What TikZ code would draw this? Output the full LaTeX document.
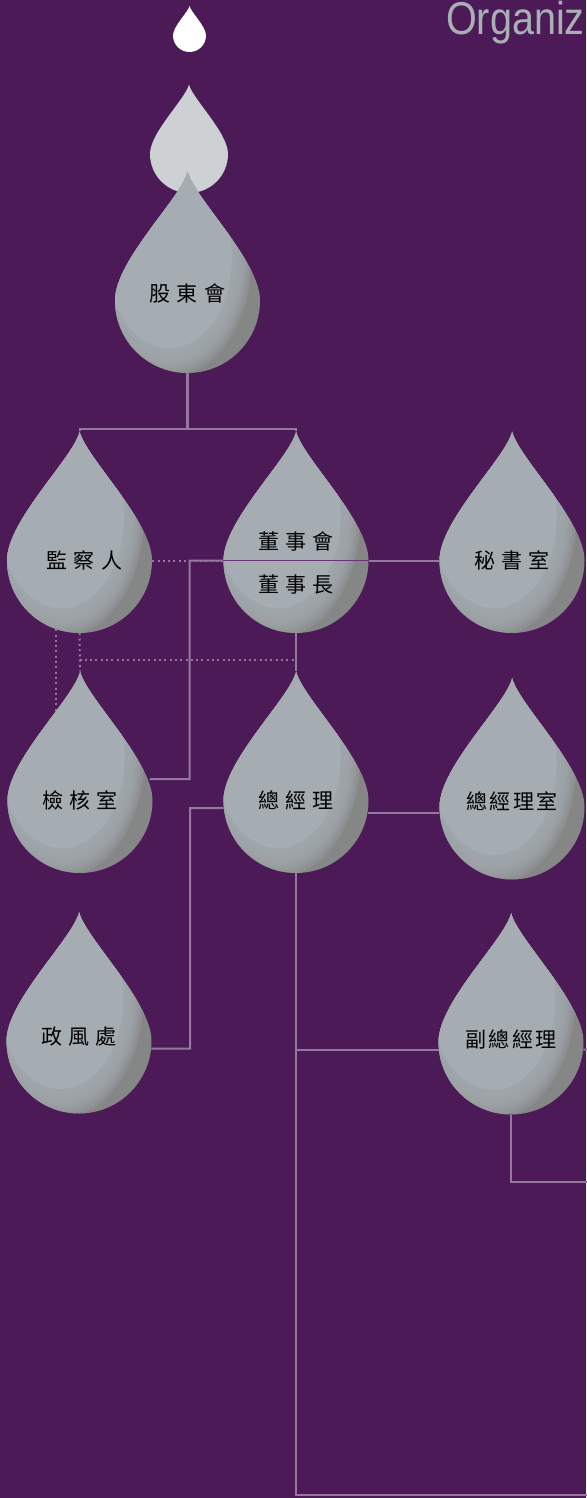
\documentclass[tikz,border=0pt]{standalone}
\usepackage{fontspec}
\newfontfamily\cjkwide[LetterSpace=30]{Noto Sans CJK TC}
\newfontfamily\cjknarrow[LetterSpace=12]{Noto Sans CJK TC}
\newfontfamily\titlefont[FakeStretch=0.86]{Liberation Sans}
\usetikzlibrary{positioning}

\definecolor{plum}{HTML}{4C1B57}
\definecolor{linkgrey}{HTML}{9478A0}
\definecolor{dropgrey}{HTML}{A5ACB2}
\definecolor{dropshadow}{HTML}{858686}
\definecolor{paledrop}{HTML}{CDD1D4}
\definecolor{titlegrey}{HTML}{A8AFB5}
\definecolor{rulepurple}{HTML}{6A3277}

\pgfdeclarelayer{canvas}
\pgfdeclarelayer{wires}
\pgfsetlayers{canvas,wires,main}

\tikzset{
  drop path/.style={insert path={(0,1.78) .. controls (0.1,1.4) and (1,0.55) .. (1,0) arc[start angle=0, end angle=-180, radius=1] .. controls (-1,0.55) and (-0.1,1.4) .. cycle}},
  dropcore/.style={circle, inner sep=0pt},
  droplabel/.style={font=\cjkwide\fontsize{21}{25}\selectfont, text=black, inner sep=0pt},
  narrowlabel/.style={font=\cjknarrow\fontsize{21}{25}\selectfont},
  link/.style={draw=linkgrey, line width=2pt},
  trunk/.style={link, line width=3pt},
  dotlink/.style={link, line width=2pt, dash pattern=on 2pt off 3.3pt},
  rule/.style={draw=rulepurple, line width=1.6pt},
  title/.style={font=\titlefont\fontsize{46}{50}\selectfont, text=titlegrey, inner sep=0pt},
}

% shaded drop with a named round part
\newcommand{\waterdrop}[6][]{%
  \begin{scope}[shift={(#3,#4)}, scale=#5]
    \begin{scope}
      \clip[drop path];
      \fill[dropshadow] (-1.2,-1.2) rectangle (1.2,2);
      \foreach \s in {0.95,0.925,0.9,0.875,0.85,0.825,0.8,0.775,0.75}
        \fill[dropgrey, opacity=0.22] (-0.25,0.6) ellipse [x radius=1.2*\s, y radius=1.75*\s];
      \fill[dropgrey] (-0.25,0.6) ellipse [x radius=1.2*0.72, y radius=1.75*0.72];
    \end{scope}
    \coordinate (#2-tip) at (0,1.78);
  \end{scope}
  \node[dropcore, minimum size=2*#5pt] (#2) at (#3,#4) {};
  \node[droplabel, #1] (#2-text) at (#3,#4) {#6};
}

\begin{document}
\begin{tikzpicture}[x=1pt, y=1pt]
  \useasboundingbox (0,0) rectangle (586,-1498);
  \begin{pgfonlayer}{canvas}
    \fill[plum] (0,0) rectangle (586,-1498);
  \end{pgfonlayer}

  \node[title, anchor=base west] (heading) at (446,-34.5) {Organiz};

  % falling drops
  \begin{scope}[shift={(189.5,-35.5)}, scale=16.5]
    \fill[white, drop path];
  \end{scope}
  \begin{scope}[shift={(189,-154)}, scale=39]
    \fill[paledrop, drop path];
  \end{scope}

  \waterdrop[yshift=7.5]{gudong}{187.5}{-300.5}{72.5}{股東會}
  \waterdrop[xshift=5]{jiancha}{79.5}{-560.5}{72.5}{監察人}
  \waterdrop[align=center, yshift=-3, execute at begin node=\setlength{\baselineskip}{43pt}]{dongshi}{296}{-560.5}{72.5}{董事會\\董事長}
  \waterdrop{mishu}{512}{-560.5}{72.5}{秘書室}
  \waterdrop{jianhe}{80}{-800.5}{72.5}{檢核室}
  \waterdrop{zongjingli}{296}{-800.5}{72.5}{總經理}
  \waterdrop[narrowlabel, yshift=6]{zjlshi}{512}{-807}{72.5}{總經理室}
  \waterdrop[yshift=4]{zhengfeng}{79}{-1041}{72.5}{政風處}
  \waterdrop[narrowlabel, yshift=3]{fuzong}{511}{-1042}{72.5}{副總經理}

  \draw[rule] (dongshi.west) -- (dongshi.east);

  \coordinate (fork) at (187.5,-429);
  \coordinate (dotrail) at (79.5,-660);
  \coordinate (auditbend) at (189.5,-779);
  \coordinate (ethicsbend) at (190,-1048.6);
  \coordinate (baseexit) at (590,-1495);
  \coordinate (sideexit) at (590,-1049.6);
  \coordinate (lowexit) at (590,-1181.5);

  \begin{pgfonlayer}{wires}
    \draw[trunk] (gudong.south) -- (fork);
    \draw[link] (jiancha-tip) |- (fork) -| (dongshi-tip);
    \draw[dotlink] (jiancha.east) -- (dongshi.west);
    \draw[link] (dongshi.west) -| (auditbend) -- (jianhe.17);
    \draw[link] (dongshi.east) -- (mishu.west);
    \draw[dotlink] (jiancha.south) -- (jianhe-tip);
    \draw[dotlink] (dotrail) -- (dotrail -| dongshi.south);
    \draw[dotlink] (jiancha.251) -- (jiancha.251 |- jianhe);
    \draw[link] (dongshi.south) -- (zongjingli-tip);
    \draw[link] (zongjingli.-10) -- (zongjingli.-10 -| zjlshi.west);
    \draw[link] (zongjingli.186) -| (ethicsbend) -- (zhengfeng.-6);
    \draw[link] (zongjingli.south) |- (baseexit);
    \draw[link] (zongjingli.south |- fuzong.186) -- (fuzong.186);
    \draw[link] (fuzong.-6) -- (sideexit);
    \draw[link] (fuzong.south) |- (lowexit);
  \end{pgfonlayer}
\end{tikzpicture}
\end{document}
